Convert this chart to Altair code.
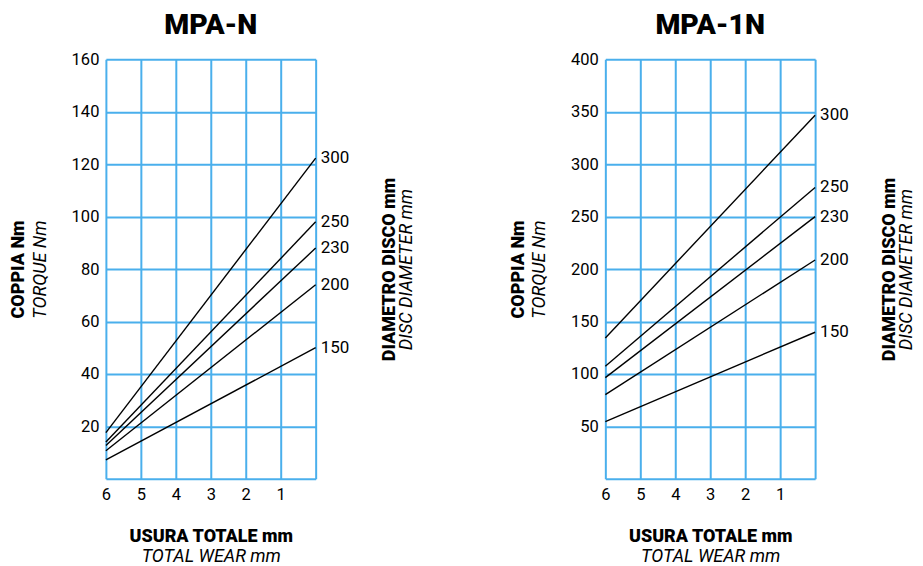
import altair as alt
import pandas as pd

BLUE = "#4AAFEC"

diameters = ["300", "250", "230", "200", "150"]
wear_ends = [6, 0]
mpa_n_at6 = [17.6, 14.0, 12.7, 10.7, 7.2]
mpa_n_at0 = [122.3, 98.0, 88.0, 74.0, 50.0]
mpa_1n_at6 = [134.3, 107.3, 96.5, 80.3, 54.6]
mpa_1n_at0 = [346.7, 277.8, 250.0, 208.6, 139.7]
x_ticks = [6, 5, 4, 3, 2, 1, 0]
n_yticks = [0, 20, 40, 60, 80, 100, 120, 140, 160]
n1_yticks = [0, 50, 100, 150, 200, 250, 300, 350, 400]

FONT = "Roboto"
BOLD_SIZE = 18
IT_SIZE = 18


def panel(title, at6, at0, yticks):
    rows = []
    for d, a, b in zip(diameters, at6, at0):
        rows.append({"diam": d, "wear": wear_ends[0], "torque": a})
        rows.append({"diam": d, "wear": wear_ends[1], "torque": b})
    df = pd.DataFrame(rows)
    lab = pd.DataFrame({"diam": diameters, "wear": [wear_ends[1]] * len(diameters), "torque": at0})

    xs = alt.Scale(domain=[6, 0], nice=False, zero=False)
    ys = alt.Scale(domain=[yticks[0], yticks[-1]], nice=False)

    lines = alt.Chart(df).mark_line(color="black", strokeWidth=1.4).encode(
        x=alt.X("wear:Q", scale=xs, axis=alt.Axis(
            values=x_ticks, grid=True, gridColor=BLUE, gridWidth=2, gridOpacity=1,
            ticks=False, domain=False, labelFont=FONT, labelFontSize=16.5, labelColor="black",
            labelFlush=False, labelPadding=8, labelExpr="datum.value == 0 ? '' : datum.label",
            title="USURA TOTALE mm", titleFont=FONT, titleFontSize=BOLD_SIZE,
            titleFontWeight=900, titleColor="black", titlePadding=24)),
        y=alt.Y("torque:Q", scale=ys, axis=alt.Axis(
            values=yticks, grid=True, gridColor=BLUE, gridWidth=2, gridOpacity=1,
            ticks=False, domain=False, labelFont=FONT, labelFontSize=16.5, labelColor="black",
            labelFlush=False, labelPadding=7, labelExpr="datum.value == 0 ? '' : datum.label",
            title="TORQUE Nm", titleFont=FONT, titleFontSize=IT_SIZE, titleFontStyle="italic",
            titleFontWeight="normal", titleColor="black", titlePadding=22)),
        detail="diam:N",
    )

    labels = alt.Chart(lab).mark_text(align="left", baseline="middle", dx=5,
                                       font=FONT, fontSize=17, color="black").encode(
        x=alt.X("wear:Q", scale=xs, axis=None),
        y=alt.Y("torque:Q", scale=ys, axis=None),
        text="diam:N",
    )

    extra1 = alt.Chart(df).mark_line(opacity=0).encode(
        x=alt.X("wear:Q", scale=xs, axis=alt.Axis(
            orient="bottom", labels=False, ticks=False, domain=False, grid=False,
            title="TOTAL WEAR mm", titleFont=FONT, titleFontSize=IT_SIZE, titleFontStyle="italic",
            titleFontWeight="normal", titleColor="black", titlePadding=69)),
        y=alt.Y("torque:Q", scale=ys, axis=alt.Axis(
            orient="left", labels=False, ticks=False, domain=False, grid=False,
            title="COPPIA Nm", titleFont=FONT, titleFontSize=BOLD_SIZE, titleFontWeight=900,
            titleColor="black", titlePadding=78)),
        detail="diam:N",
    )

    extra2 = alt.Chart(df).mark_line(opacity=0).encode(
        x=alt.X("wear:Q", scale=xs, axis=None),
        y=alt.Y("torque:Q", scale=ys, axis=alt.Axis(
            orient="right", labels=False, ticks=False, domain=False, grid=False,
            title="DIAMETRO DISCO mm", titleFont=FONT, titleFontSize=BOLD_SIZE, titleFontWeight=900,
            titleColor="black", titleAngle=270, titleBaseline="top", titlePadding=65)),
        detail="diam:N",
    )

    extra3 = alt.Chart(df).mark_line(opacity=0).encode(
        x=alt.X("wear:Q", scale=xs, axis=None),
        y=alt.Y("torque:Q", scale=ys, axis=alt.Axis(
            orient="right", labels=False, ticks=False, domain=False, grid=False,
            title="DISC DIAMETER mm", titleFont=FONT, titleFontSize=IT_SIZE, titleFontStyle="italic",
            titleFontWeight="normal", titleColor="black", titleAngle=270, titleBaseline="top",
            titlePadding=82)),
        detail="diam:N",
    )

    return alt.layer(lines, labels, extra1, extra2, extra3).resolve_axis(
        x="independent", y="independent"
    ).properties(
        width=210, height=420,
        title=alt.TitleParams(title, font=FONT, fontSize=28.5, fontWeight=900, color="black",
                              anchor="middle", offset=12),
    )


left = panel("MPA-N", mpa_n_at6, mpa_n_at0, n_yticks)
right = panel("MPA-1N", mpa_1n_at6, mpa_1n_at0, n1_yticks)

chart = alt.hconcat(left, right, spacing=290, bounds="flush").properties(
    padding={"left": 2, "top": 2, "right": 0, "bottom": 2}
).configure_view(stroke=None)

chart.save("out.html", embed_options={"renderer": "svg", "actions": False})
